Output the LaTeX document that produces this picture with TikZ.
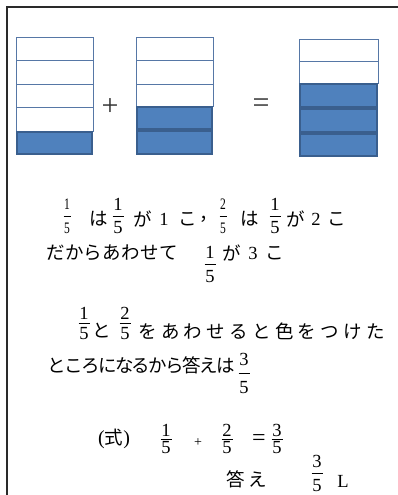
\documentclass[tikz,border=0pt]{standalone}
\usepackage{fontspec}
\setmainfont{Liberation Serif}
\newfontfamily\jp{Noto Sans CJK JP}
\usetikzlibrary{calc}
\definecolor{cellblue}{HTML}{4F81BD}
\definecolor{celledge}{HTML}{3A5F8E}
\definecolor{wedge}{HTML}{5677A6}
\definecolor{framec}{HTML}{2A2A2A}
\makeatletter
\newcommand\spaced[2]{\@tfor\sp@c:=#2\do{\makebox[#1][c]{\sp@c}}}
\makeatother
% fraction: name, x, y numerator, y denominator, numerator, denominator
\newcommand\fr[6]{%
  \node[dig] (#1n) at (#2,#3) {#5};
  \node[dig] (#1d) at (#2,#4) {#6};
  \draw[fbar] ($(#1n)!0.5!(#1d)+(-5.5,0)$) -- ($(#1n)!0.5!(#1d)+(5.5,0)$);
}
\newcommand\frs[6]{%
  \node[digs] (#1n) at (#2,#3) {\scalebox{0.72}[1]{#5}};
  \node[digs] (#1d) at (#2,#4) {\scalebox{0.72}[1]{#6}};
  \draw[fbar] ($(#1n)!0.5!(#1d)+(-3.5,0)$) -- ($(#1n)!0.5!(#1d)+(3.5,0)$);
}
\newcommand\wcell[4]{\draw[wcell] (#1,#2) rectangle (#3,#4);}
\newcommand\bcell[4]{\draw[bcell] ($(#1,#2)+(1,1)$) rectangle ($(#3,#4)+(-1,-1)$);}
\begin{document}
\begin{tikzpicture}[x=1pt,y=-1pt,
  frame/.style={draw=framec,line width=1.5pt},
  wcell/.style={draw=wedge,line width=1pt,fill=white},
  bcell/.style={draw=celledge,line width=2pt,fill=cellblue},
  dig/.style={inner sep=0pt,font=\fontsize{18.5}{18.5}\selectfont},
  digs/.style={inner sep=0pt,font=\fontsize{16}{16}\selectfont},
  jt/.style={inner sep=0pt,font=\jp\fontsize{18.5}{18.5}\selectfont},
  jtl/.style={jt,anchor=west},
  op/.style={inner sep=0pt,font=\fontsize{30}{30}\selectfont,text=black!80},
  fbar/.style={draw=black,line width=0.7pt}]
\useasboundingbox (0,0) rectangle (398,495);
\fill[white] (0,0) rectangle (398,495);
\draw[frame] (398,7) -- (7,7) -- (7,495);
% left bar
\wcell{16}{38}{93}{61}
\wcell{16}{61}{93}{84}
\wcell{16}{84}{93}{107}
\wcell{16}{107}{93}{131}
\bcell{16}{131}{93}{155}
% middle bar
\wcell{136}{38}{213}{61}
\wcell{136}{61}{213}{84}
\wcell{136}{84}{213}{106}
\bcell{136}{106}{213}{130}
\bcell{136}{130}{213}{155}
% right bar
\wcell{299}{40}{378}{62}
\wcell{299}{62}{378}{83}
\bcell{299}{83}{378}{108}
\bcell{299}{108}{378}{133}
\bcell{299}{133}{378}{157}
\node[op] (plus) at (110,107) {+};
\node[op] (eq) at (261,106) {=};
% line 1
\frs{fa}{67}{204}{228}{1}{5}
\node[jt] (l1a) at (99,219) {は};
\fr{fb}{118}{204}{228}{1}{5}
\node[jt] (l1b) at (143,219) {が};
\node[dig] (l1c) at (164,219) {1};
\node[jt] (l1d) at (188,219) {こ};
\node[jt] (l1e) at (209,219) {，};
\frs{fc}{223}{204}{228}{2}{5}
\node[jt] (l1f) at (250,219) {は};
\fr{fd}{275}{204}{228}{1}{5}
\node[jt] (l1g) at (296,219) {が};
\node[dig] (l1h) at (316,219) {2};
\node[jt] (l1i) at (337,219) {こ};
% line 2
\node[jtl] (l2a) at (46,253) {\spaced{18.8pt}{だからあわせて}};
\fr{fe}{210}{252}{277}{1}{5}
\node[jt] (l2b) at (232,253) {が};
\node[dig] (l2c) at (253,253) {3};
\node[jt] (l2d) at (275,253) {こ};
% line 3
\fr{ff}{84}{313}{334}{1}{5}
\node[jt] (l3a) at (102,331) {と};
\fr{fg}{125}{313}{334}{2}{5}
\node[jtl] (l3b) at (136,331) {\spaced{22.8pt}{をあわせると色をつけた}};
% line 4
\node[jtl] (l4a) at (48,365) {\spaced{16.9pt}{ところになるから答えは}};
\fr{fh}{244}{359}{388}{3}{5}
% line 5
\node[jt] (l5a) at (114,439) {{\rmfamily\fontsize{20}{20}\selectfont(}式{\rmfamily\fontsize{20}{20}\selectfont)}};
\fr{fi}{166}{430}{448}{1}{5}
\node[dig,font=\fontsize{14}{14}\selectfont] (l5b) at (198,443) {+};
\fr{fj}{227}{430}{448}{2}{5}
\node[dig,font=\fontsize{24}{24}\selectfont] (l5c) at (259,440) {=};
\fr{fk}{277}{430}{448}{3}{5}
% line 6
\node[jtl] (l6a) at (225,479) {\spaced{21.5pt}{答え}};
\fr{fl}{317}{461}{486}{3}{5}
\node[dig] (l6b) at (343,481) {L};
\end{tikzpicture}
\end{document}
